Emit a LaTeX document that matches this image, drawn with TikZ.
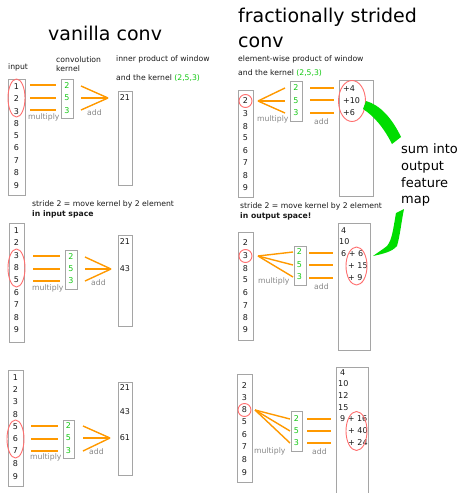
\documentclass[tikz,border=0pt]{standalone}
\usepackage{fontspec}
\setmainfont{DejaVu Sans}
\usetikzlibrary{shapes.geometric}

\definecolor{ink}{RGB}{25,25,25}
\definecolor{boxgray}{RGB}{165,165,165}
\definecolor{lblgray}{RGB}{135,135,135}
\definecolor{orng}{RGB}{255,153,0}
\definecolor{ringred}{RGB}{255,110,110}
\definecolor{kgreen}{RGB}{20,200,20}
\definecolor{swoosh}{RGB}{0,221,0}

% two named points joined by one orange stroke
\newcommand\orlink[4]{\coordinate (#1) at #2; \coordinate (#3) at #4; \draw[orl] (#1) -- (#3);}

\begin{document}
\begin{tikzpicture}[x=1pt,y=-1pt,
  txt/.style={font=\fontsize{7.7}{9}\selectfont, inner sep=0pt, text=ink},
  num/.style={txt, anchor=center, font=\fontsize{8}{9}\selectfont},
  knum/.style={num, text=kgreen},
  note/.style={txt, anchor=base west},
  lbl/.style={txt, anchor=base west, text=lblgray},
  title/.style={font=\fontsize{19}{25}\selectfont, inner sep=0pt, anchor=base west, text=black},
  big/.style={font=\fontsize{13}{16}\selectfont, inner sep=0pt, anchor=base west, text=black},
  col/.style={draw=boxgray, line width=0.9pt, inner sep=0pt, anchor=north west, fill=white},
  orl/.style={draw=orng, line width=1.4pt},
  ring/.style={draw=ringred, line width=0.9pt, ellipse, inner sep=0pt},
  bold/.style={note, font=\fontsize{7.7}{9}\selectfont\bfseries},
  cell/.style={txt, anchor=west, font=\fontsize{8}{9}\selectfont}
]
\useasboundingbox (0,0) rectangle (461,493);

% ================= vanilla conv =================
\node[title] (tvan) at (48,40) {vanilla conv};
\node[note] (lin) at (8,69) {input};
\node[note] (lk1) at (56,62) {convolution};
\node[note] (lk2) at (56,71) {kernel};
\node[note] (lip1) at (116,61) {inner product of window};
\node[note] (lip2) at (116,80) {and the kernel \textcolor{kgreen}{(2,5,3)}};

% --- step 1
\node[col, minimum width=17pt, minimum height=116pt] (inA) at (8,79) {};
\foreach \v/\y in {1/87,2/99,3/112,8/124,5/136,6/148,7/161,8/173,9/186}
  \node[num] (inA-\y) at (16.5,\y) {\v};
\node[ring, minimum width=17pt, minimum height=38pt] (rA) at (16.5,98) {};
\node[col, minimum width=12pt, minimum height=39pt] (kA) at (61,79) {};
\foreach \v/\y in {2/86,5/98,3/111} \node[knum] (kA-\y) at (67,\y) {\v};
\orlink{mA1}{(30,85)}{nA1}{(56,85)}
\orlink{mA2}{(30,98)}{nA2}{(56,98)}
\orlink{mA3}{(30,110)}{nA3}{(56,110)}
\coordinate (sA) at (108,98);
\orlink{aA1}{(81,86)}{sA}{(108,98)}
\orlink{aA2}{(81,98)}{sA}{(108,98)}
\orlink{aA3}{(81,110)}{sA}{(108,98)}
\node[lbl] (muA) at (28,119.5) {multiply};
\node[lbl] (adA) at (87,115) {add};
\node[col, minimum width=14pt, minimum height=94pt] (oA) at (118,91) {};
\node[num] (oA-1) at (125,98) {21};

% --- step 2
\node[note] (strL) at (32,206) {stride 2 = move kernel by 2 element};
\node[bold] (strL2) at (32,216) {in input space};
\node[col, minimum width=15pt, minimum height=119pt] (inB) at (9,223) {};
\foreach \v/\y in {1/231,2/243,3/256,8/268,5/280,6/293,7/305,8/318,9/330}
  \node[num] (inB-\y) at (16.5,\y) {\v};
\node[ring, minimum width=17pt, minimum height=38pt] (rB) at (16.5,268) {};
\node[col, minimum width=12pt, minimum height=39pt] (kB) at (65,250) {};
\foreach \v/\y in {2/257,5/269,3/281} \node[knum] (kB-\y) at (71,\y) {\v};
\orlink{mB1}{(33,256)}{nB1}{(60,256)}
\orlink{mB2}{(33,269)}{nB2}{(60,269)}
\orlink{mB3}{(33,281)}{nB3}{(60,281)}
\coordinate (sB) at (111,269);
\orlink{aB1}{(85,257)}{sB}{(111,269)}
\orlink{aB2}{(85,269)}{sB}{(111,269)}
\orlink{aB3}{(85,281)}{sB}{(111,269)}
\node[lbl] (muB) at (32,290) {multiply};
\node[lbl] (adB) at (91,285.5) {add};
\node[col, minimum width=14pt, minimum height=91pt] (oB) at (118,235) {};
\node[num] (oB-1) at (125,242) {21};
\node[num] (oB-2) at (125,269) {43};

% --- step 3
\node[col, minimum width=15pt, minimum height=116pt] (inC) at (8,370) {};
\foreach \v/\y in {1/378,2/390,3/402,8/415,5/427,6/439,7/451,8/464,9/477}
  \node[num] (inC-\y) at (15.5,\y) {\v};
\node[ring, minimum width=17pt, minimum height=38pt] (rC) at (15.5,439) {};
\node[col, minimum width=11pt, minimum height=38pt] (kC) at (63,420) {};
\foreach \v/\y in {2/426,5/438,3/451} \node[knum] (kC-\y) at (68.5,\y) {\v};
\orlink{mC1}{(31,426)}{nC1}{(58,426)}
\orlink{mC2}{(31,439)}{nC2}{(58,439)}
\orlink{mC3}{(31,451)}{nC3}{(58,451)}
\coordinate (sC) at (110,438);
\orlink{aC1}{(83,426)}{sC}{(110,438)}
\orlink{aC2}{(83,438)}{sC}{(110,438)}
\orlink{aC3}{(83,451)}{sC}{(110,438)}
\node[lbl] (muC) at (30,459.5) {multiply};
\node[lbl] (adC) at (89,454.5) {add};
\node[col, minimum width=14pt, minimum height=93pt] (oC) at (118,382) {};
\node[num] (oC-1) at (125,388) {21};
\node[num] (oC-2) at (125,412) {43};
\node[num] (oC-3) at (125,438) {61};

% ================= fractionally strided conv =================
\node[title] (tfr1) at (238,22) {fractionally strided};
\node[title] (tfr2) at (238,47) {conv};
\node[note] (lep1) at (238,61) {element-wise product of window};
\node[note] (lep2) at (238,75) {and the kernel \textcolor{kgreen}{(2,5,3)}};

% --- step 1
\node[col, minimum width=15pt, minimum height=107pt] (inD) at (238,90) {};
\foreach \v/\y in {2/101,3/114,8/127,5/138,6/151,7/163,8/176,9/188}
  \node[num] (inD-\y) at (245.5,\y) {\v};
\node[ring, minimum width=13pt, minimum height=13pt] (rD) at (245.5,101) {};
\node[col, minimum width=12pt, minimum height=40pt] (kD) at (290,81) {};
\foreach \v/\y in {2/88,5/101,3/113} \node[knum] (kD-\y) at (296,\y) {\v};
\coordinate (sD) at (258,101);
\orlink{sD}{(258,101)}{nD1}{(285,88)}
\orlink{sD}{(258,101)}{nD2}{(285,101)}
\orlink{sD}{(258,101)}{nD3}{(285,113)}
\orlink{aD1}{(310,88)}{bD1}{(334,88)}
\orlink{aD2}{(310,100)}{bD2}{(334,100)}
\orlink{aD3}{(310,113)}{bD3}{(334,113)}
\node[lbl] (muD) at (257,121) {multiply};
\node[lbl] (adD) at (314,124) {add};
\node[col, minimum width=34pt, minimum height=116pt] (oD) at (339,80) {};
\node[cell] (oD-1) at (343,89) {+4};
\node[cell] (oD-2) at (343,101) {+10};
\node[cell] (oD-3) at (343,113) {+6};
\node[ring, minimum width=27pt, minimum height=41pt] (rD2) at (352,101) {};

% sweeping marks towards the caption
\fill[swoosh] (366,101) .. controls (380,105) and (392,118) .. (401,137)
  -- (392,144) .. controls (384,128) and (374,116) .. (363,109) -- cycle;
\node[big] (cap1) at (401,153) {sum into};
\node[big] (cap2) at (401,170) {output};
\node[big] (cap3) at (401,187) {feature};
\node[big] (cap4) at (401,203) {map};
\fill[swoosh] (404,209) -- (396,213) .. controls (393,230) and (392,240) .. (387,246)
  .. controls (382,250) and (377,253) .. (373,256)
  .. controls (382,254) and (392,252) .. (397,246)
  .. controls (400,236) and (401,224) .. cycle;

% --- step 2
\node[note] (strR) at (240,208) {stride 2 = move kernel by 2 element};
\node[bold] (strR2) at (240,218) {in output space!};
\node[col, minimum width=15pt, minimum height=108pt] (inE) at (238,232) {};
\foreach \v/\y in {2/243,3/256,8/269,5/280,6/293,7/306,8/318,9/330}
  \node[num] (inE-\y) at (245.5,\y) {\v};
\node[ring, minimum width=13pt, minimum height=13pt] (rE) at (245.5,256) {};
\node[col, minimum width=12pt, minimum height=39pt] (kE) at (294,246) {};
\foreach \v/\y in {2/252,5/265,3/277} \node[knum] (kE-\y) at (299.5,\y) {\v};
\coordinate (sE) at (258,256);
\orlink{sE}{(258,256)}{nE1}{(293,252)}
\orlink{sE}{(258,256)}{nE2}{(293,265)}
\orlink{sE}{(258,256)}{nE3}{(293,277)}
\orlink{aE1}{(309,253)}{bE1}{(333,253)}
\orlink{aE2}{(309,265)}{bE2}{(333,265)}
\orlink{aE3}{(309,278)}{bE3}{(333,278)}
\node[lbl] (muE) at (258,283.5) {multiply};
\node[lbl] (adE) at (314,289) {add};
\node[col, minimum width=32pt, minimum height=127pt] (oE) at (338,223) {};
\node[cell] (oE-1) at (341,231) {4};
\node[cell] (oE-2) at (339,242) {10};
\node[cell] (oE-3) at (341,254) {6 + 6};
\node[cell] (oE-4) at (348,266) {+ 15};
\node[cell] (oE-5) at (348,278) {+ 9};
\node[ring, minimum width=21pt, minimum height=38pt] (rE2) at (356.5,266) {};

% --- step 3
\node[col, minimum width=15pt, minimum height=108pt] (inF) at (237,374) {};
\foreach \v/\y in {2/386,3/398,8/410,5/422,6/435,7/447,8/460,9/473}
  \node[num] (inF-\y) at (244.5,\y) {\v};
\node[ring, minimum width=13pt, minimum height=13pt] (rF) at (244.5,410) {};
\node[col, minimum width=11pt, minimum height=40pt] (kF) at (291,411) {};
\foreach \v/\y in {2/419,5/431,3/443} \node[knum] (kF-\y) at (296.5,\y) {\v};
\coordinate (sF) at (255,410);
\orlink{sF}{(255,410)}{nF1}{(290,419)}
\orlink{sF}{(255,410)}{nF2}{(290,431)}
\orlink{sF}{(255,410)}{nF3}{(290,443)}
\orlink{aF1}{(307,419)}{bF1}{(331,419)}
\orlink{aF2}{(307,431)}{bF2}{(331,431)}
\orlink{aF3}{(307,443)}{bF3}{(331,443)}
\node[lbl] (muF) at (254,453) {multiply};
\node[lbl] (adF) at (312,454) {add};
\draw[draw=boxgray, line width=0.9pt] (336,496) -- (336,367) -- (368,367) -- (368,496);
\coordinate (oF) at (352,367);
\node[cell] (oF-1) at (340,373) {4};
\node[cell] (oF-2) at (338,384) {10};
\node[cell] (oF-3) at (338,396) {12};
\node[cell] (oF-4) at (338,408) {15};
\node[cell] (oF-5) at (340,419) {9 + 16};
\node[cell] (oF-6) at (348,431) {+ 40};
\node[cell] (oF-7) at (348,443) {+ 24};
\node[ring, minimum width=21pt, minimum height=39pt] (rF2) at (356.5,431) {};
\end{tikzpicture}
\end{document}
